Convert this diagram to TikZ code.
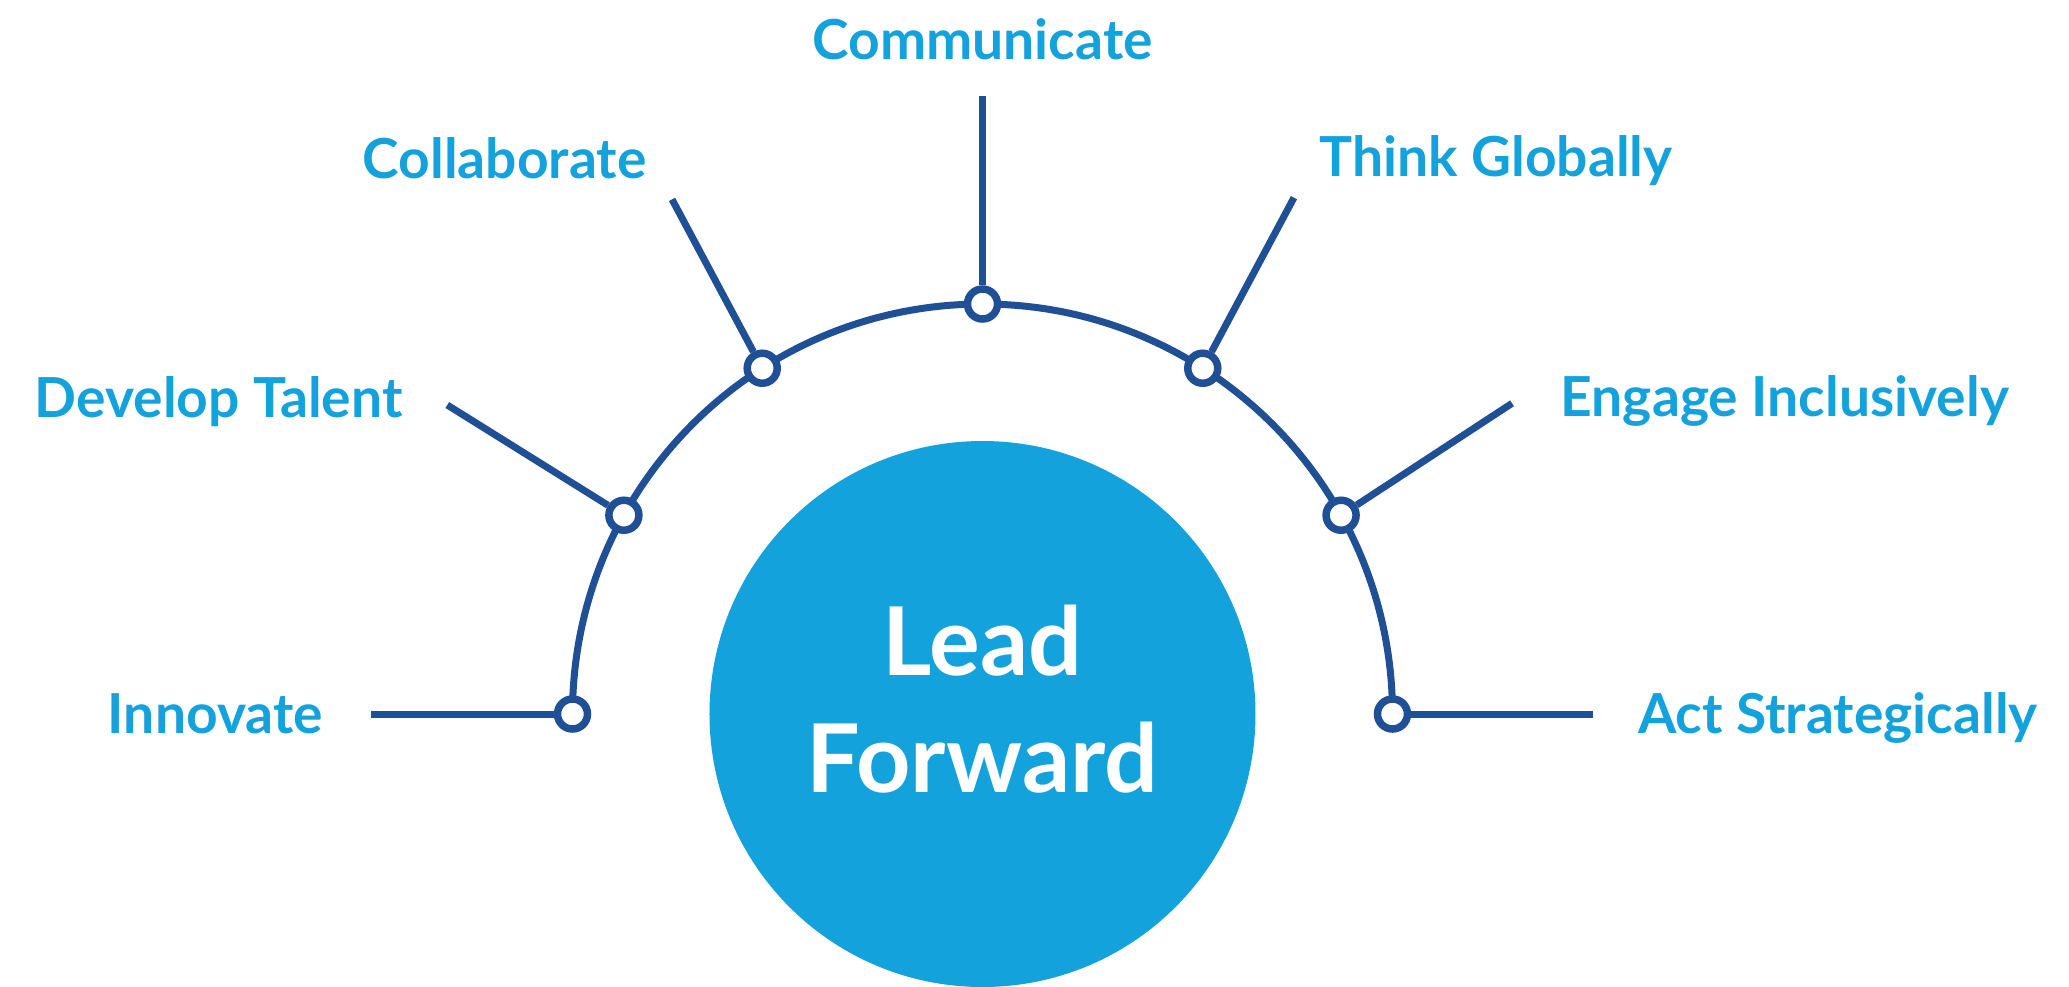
\documentclass[tikz,border=0pt]{standalone}
\usepackage{fontspec}
\setmainfont{Lato}
\usetikzlibrary{positioning}

\definecolor{skyblue}{RGB}{20,162,220}
\definecolor{navyline}{RGB}{31,80,150}

\tikzset{
	spoke/.style={navyline, line width=0.07cm},
	dot/.style={circle, draw=navyline, fill=white, line width=0.075cm, minimum size=0.3cm, inner sep=0pt},
	hub/.style={circle, fill=skyblue, minimum size=5.46cm, inner sep=0pt},
	hubtext/.style={text=white, align=center, inner sep=0pt, font=\bfseries\fontsize{27}{33.5}\selectfont},
	lbl/.style={text=skyblue, font=\bfseries\fontsize{15.7}{18}\selectfont, inner sep=0pt, text height=0.395cm, text depth=0pt}
}

\begin{document}
\begin{tikzpicture}
	
	\useasboundingbox (-9.825,-2.72) rectangle (10.865,7.14);
	
	\node[hub] (hub) at (0,0) {};
	\node[hubtext] (hubText) at ([yshift=0.15cm]hub.center) {Lead\\Forward};
	\draw[spoke] (180:4.1) arc (180:0:4.1);
	
	\node[dot] (innovate) at (180:4.1) {};
	\node[dot] (talent) at (151:4.1) {};
	\node[dot] (collaborate) at (122.5:4.1) {};
	\node[dot] (communicate) at (90:4.1) {};
	\node[dot] (global) at (57.5:4.1) {};
	\node[dot] (inclusive) at (29:4.1) {};
	\node[dot] (strategic) at (0:4.1) {};
	
	\coordinate (innovateEnd) at (180:6.11);
	\coordinate (talentEnd) at (150:6.18);
	\coordinate (collaborateEnd) at (121.1:6.01);
	\coordinate (communicateEnd) at (90:6.18);
	\coordinate (globalEnd) at (58.9:6.03);
	\coordinate (inclusiveEnd) at (30.4:6.14);
	\coordinate (strategicEnd) at (0:6.10);
	
	\draw[spoke] (innovate) -- (innovateEnd);
	\draw[spoke] (talent) -- (talentEnd);
	\draw[spoke] (collaborate) -- (collaborateEnd);
	\draw[spoke] (communicate) -- (communicateEnd);
	\draw[spoke] (global) -- (globalEnd);
	\draw[spoke] (inclusive) -- (inclusiveEnd);
	\draw[spoke] (strategic) -- (strategicEnd);
	
	\node[lbl, left=0.48cm of innovateEnd] (innovateText) {Innovate};
	\node[lbl, left=0.44cm of talentEnd, yshift=0.07cm] (talentText) {Develop Talent};
	\node[lbl, above left=0.2cm and 0.25cm of collaborateEnd] (collaborateText) {Collaborate};
	\node[lbl, above=0.36cm of communicateEnd] (communicateText) {Communicate};
	\node[lbl, above right=0.2cm and 0.25cm of globalEnd] (globalText) {Think Globally};
	\node[lbl, right=0.48cm of inclusiveEnd, yshift=0.07cm] (inclusiveText) {Engage Inclusively};
	\node[lbl, right=0.45cm of strategicEnd] (strategicText) {Act Strategically};
	
\end{tikzpicture}
\end{document}
